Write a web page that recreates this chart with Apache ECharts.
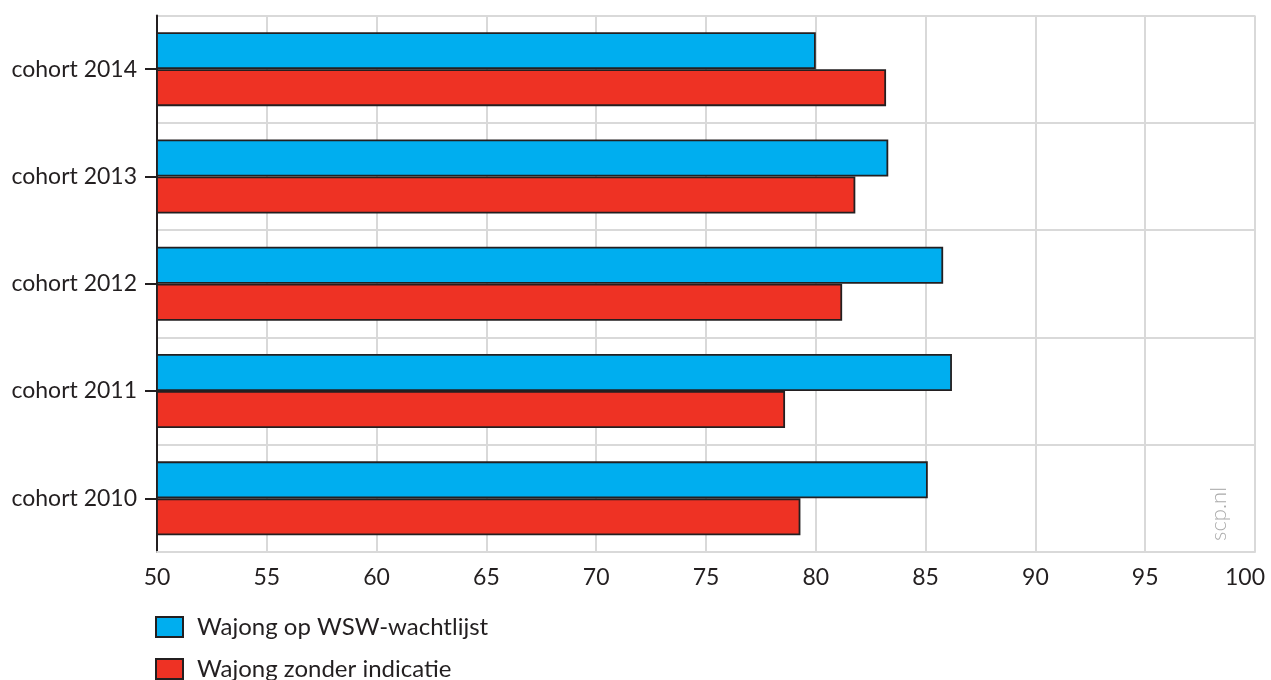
<!DOCTYPE html>
<html>
<head>
<meta charset="utf-8">
<script src="https://cdn.jsdelivr.net/npm/echarts@6/dist/echarts.min.js"></script>
<style>
html,body{margin:0;padding:0;background:#fff;}
#chart{width:1271px;height:680px;}
</style>
</head>
<body>
<div id="chart"></div>
<script>
var categories = ['cohort 2014', 'cohort 2013', 'cohort 2012', 'cohort 2011', 'cohort 2010'];
var seriesNames = ['Wajong op WSW-wachtlijst', 'Wajong zonder indicatie'];
var wachtlijst = [80.0, 83.3, 85.8, 86.2, 85.1];
var zonderIndicatie = [83.2, 81.8, 81.2, 78.6, 79.3];
var xTicks = { min: 50, max: 100, interval: 5 };

var textColor = '#231f20';
var fontFam = 'Lato, "Open Sans", sans-serif';
var gridColor = '#d9d9d9';

function legendFor(name, top) {
  return {
    orient: 'vertical',
    left: 155, top: top,
    padding: 0,
    itemWidth: 27, itemHeight: 20,
    icon: 'rect',
    data: [name],
    textStyle: { color: textColor, fontSize: 24, fontFamily: fontFam, padding: [0, 0, 0, 9] }
  };
}

var chart = echarts.init(document.getElementById('chart'));
chart.setOption({
  animation: false,
  backgroundColor: '#fff',
  textStyle: { fontFamily: fontFam },
  grid: { left: 157, right: 16, top: 15.5, bottom: 128, containLabel: false, outerBoundsMode: 'none' },
  xAxis: {
    type: 'value',
    min: xTicks.min, max: xTicks.max, interval: xTicks.interval,
    axisLine: { show: true, lineStyle: { color: gridColor, width: 2 } },
    axisTick: { show: false },
    axisLabel: {
      color: textColor, fontSize: 23, fontFamily: fontFam, margin: 14,
      formatter: function (v) { return v === xTicks.max ? '{last|' + v + '}' : String(v); },
      rich: { last: { color: textColor, fontSize: 23, fontFamily: fontFam, padding: [0, 20, 0, 0] } }
    },
    splitLine: { show: true, lineStyle: { color: gridColor, width: 2 } }
  },
  yAxis: {
    type: 'category',
    data: categories,
    inverse: true,
    axisLine: { show: true, lineStyle: { color: '#231f20', width: 2 } },
    axisTick: { show: true, alignWithLabel: true, length: 12, lineStyle: { color: '#231f20', width: 2 } },
    axisLabel: { color: textColor, fontSize: 23, fontFamily: fontFam, margin: 20 },
    splitLine: { show: true, lineStyle: { color: gridColor, width: 2 } }
  },
  legend: [legendFor(seriesNames[0], 615), legendFor(seriesNames[1], 657)],
  graphic: [{
    type: 'text',
    left: 1208, top: 487,
    rotation: Math.PI / 2,
    style: { text: 'scp.nl', fill: '#ababab', font: '300 22px ' + fontFam }
  }],
  series: [
    {
      name: seriesNames[0], type: 'bar', data: wachtlijst,
      barGap: '0%', barCategoryGap: '31%',
      itemStyle: { color: '#00aeef', borderColor: '#231f20', borderWidth: 1.8 }
    },
    {
      name: seriesNames[1], type: 'bar', data: zonderIndicatie,
      barGap: '0%', barCategoryGap: '31%',
      itemStyle: { color: '#ee3224', borderColor: '#231f20', borderWidth: 1.8 }
    }
  ]
});
</script>
</body>
</html>
